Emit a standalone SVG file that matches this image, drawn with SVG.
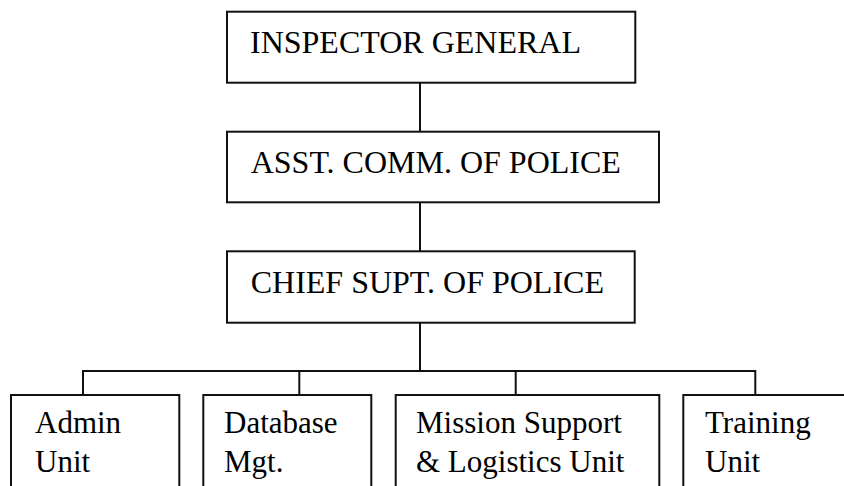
<svg xmlns="http://www.w3.org/2000/svg" width="844" height="486" viewBox="0 0 844 486">
<style>
.box{fill:#fff;stroke:#111;stroke-width:2}
.ln{fill:none;stroke:#111;stroke-width:2}
text{font-family:'Liberation Serif','Times New Roman',Tinos,'DejaVu Serif',serif;fill:#000}
.big{font-size:32px}
.sm{font-size:31px}
</style>
<rect width="844" height="486" fill="#fff"/>
<g id="connectors">
<line class="ln" x1="420" y1="82.7" x2="420" y2="131.7"/>
<line class="ln" x1="420" y1="202.3" x2="420" y2="251"/>
<line class="ln" x1="420" y1="322.7" x2="420" y2="371"/>
<polyline class="ln" points="83,395 83,371 755.3,371 755.3,395"/>
<line class="ln" x1="299.3" y1="371" x2="299.3" y2="395"/>
<line class="ln" x1="515.7" y1="371" x2="515.7" y2="395"/>
</g>
<g id="inspector-general">
<rect class="box" x="227" y="11.7" width="408.3" height="71"/>
<text class="big" x="250" y="52.7" font-family="Liberation Serif, serif">INSPECTOR GENERAL</text>
</g>
<g id="asst-comm">
<rect class="box" x="227" y="131.7" width="432" height="70.6"/>
<text class="big" x="250.7" y="173.3" font-family="Liberation Serif, serif">ASST. COMM. OF POLICE</text>
</g>
<g id="chief-supt">
<rect class="box" x="227" y="251.3" width="407.7" height="71.4"/>
<text class="big" x="250.7" y="293.3" font-family="Liberation Serif, serif">CHIEF SUPT. OF POLICE</text>
</g>
<g id="admin-unit">
<rect class="box" x="11" y="395" width="168.3" height="110"/>
<text class="sm" x="35" y="433.3" font-family="Liberation Serif, serif">Admin</text>
<text class="sm" x="35" y="471.7" font-family="Liberation Serif, serif">Unit</text>
</g>
<g id="database-mgt">
<rect class="box" x="203.3" y="395" width="168" height="110"/>
<text class="sm" x="224" y="433.3" font-family="Liberation Serif, serif">Database</text>
<text class="sm" x="224" y="471.7" font-family="Liberation Serif, serif">Mgt.</text>
</g>
<g id="mission-support">
<rect class="box" x="395.7" y="395" width="263.6" height="110"/>
<text class="sm" x="416" y="433.3" font-family="Liberation Serif, serif">Mission Support</text>
<text class="sm" x="416" y="471.7" font-family="Liberation Serif, serif">&amp; Logistics Unit</text>
</g>
<g id="training-unit">
<rect class="box" x="683.3" y="395" width="170" height="110"/>
<text class="sm" x="705" y="433.3" font-family="Liberation Serif, serif">Training</text>
<text class="sm" x="705" y="471.7" font-family="Liberation Serif, serif">Unit</text>
</g>
</svg>
